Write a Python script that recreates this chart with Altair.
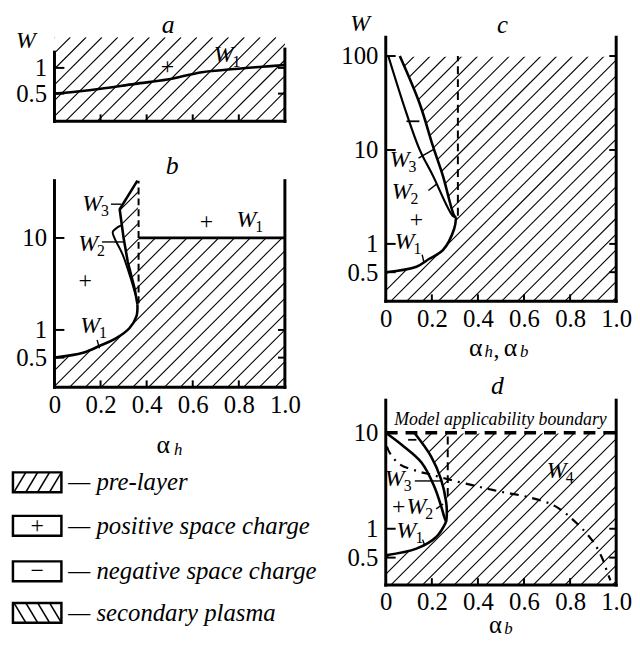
import altair as alt
import numpy as np
import pandas as pd

FONT = "Liberation Serif"
PW = 233  # plot width of every panel

# ---------------- values ----------------
x_ticks = [0, 0.2, 0.4, 0.6, 0.8, 1.0]
inner_x_ticks = [0.2, 0.4, 0.6, 0.8]

# panel a
a_y_ticks = [0.5, 1]
a_w1_x = [0, 0.1, 0.2, 0.35, 0.49, 0.64, 0.78, 0.9, 1.0]
a_w1_w = [0.5, 0.53, 0.57, 0.65, 0.73, 0.89, 0.97, 1.03, 1.08]

# panel b
b_y_ticks = [0.5, 1, 10]
b_w1_x = [0, 0.124, 0.197, 0.27, 0.326, 0.356, 0.36]
b_w1_w = [0.5, 0.565, 0.673, 0.82, 1.05, 1.41, 1.9]
b_w3_x = [0.36, 0.348, 0.318, 0.30, 0.283, 0.36]
b_w3_w = [1.9, 2.8, 5.5, 10, 20.5, 42]
b_w2_x = [0.352, 0.335, 0.296, 0.262, 0.253, 0.275, 0.293]
b_w2_w = [2.4, 3.36, 6.6, 9.8, 11.6, 13.1, 13.8]
b_dash_x = 0.365
b_w1_level = 10

# panel c
c_y_ticks = [0.5, 1, 10, 100]
c_w1_x = [0, 0.133, 0.189, 0.248, 0.297, 0.305]
c_w1_w = [0.5, 0.572, 0.695, 0.858, 1.45, 1.92]
c_w2_x = [0.011, 0.09, 0.147, 0.205, 0.29, 0.305]
c_w2_w = [100, 24.5, 10.1, 5.3, 2.0, 1.92]
c_w3_x = [0.061, 0.147, 0.205, 0.248, 0.297, 0.305]
c_w3_w = [100, 31.2, 10.9, 5.3, 2.0, 1.92]
c_dash_x = 0.313
c_top = 100

# panel d
d_y_ticks = [0.5, 1, 10]
d_w1_x = [0, 0.133, 0.219, 0.262]
d_w1_w = [0.53, 0.62, 0.82, 1.18]
d_w2_x = [0, 0.069, 0.155, 0.21, 0.24, 0.253, 0.262]
d_w2_w = [10, 7.5, 4.9, 2.78, 1.73, 1.35, 1.18]
d_w3_x = [0.124, 0.197, 0.24, 0.262, 0.265, 0.262]
d_w3_w = [10, 5.65, 3.27, 1.9, 1.4, 1.18]
d_w4_x = [0.005, 0.017, 0.06, 0.142, 0.2, 0.272, 0.375, 0.445, 0.504, 0.617, 0.733, 0.819, 0.897, 0.94, 0.96, 0.975]
d_w4_w = [7.2, 6.2, 4.7, 3.96, 3.65, 3.27, 2.85, 2.6, 2.42, 2.14, 1.73, 1.2, 0.75, 0.49, 0.36, 0.29]
d_dash_x = 0.269
d_limit = 10

legend_labels = ["— pre-layer", "— positive space charge", "— negative space charge", "— secondary plasma"]

NOVIEW = alt.ViewBackground(stroke="transparent", strokeWidth=0)

# ---------------- helpers ----------------
class Panel:
    def __init__(self, H, lo, hi, yvals, xlabels=True):
        self.H, self.lo, self.hi = H, lo, hi
        self.xs = alt.Scale(domain=[0, 1], nice=False, zero=False)
        self.ys = alt.Scale(type="log", domain=[lo, hi], nice=False)
        self.xa = alt.Axis(values=x_ticks, labelExpr="datum.value == 0 ? '0' : format(datum.value, '.1f')",
                           domain=False, ticks=False, grid=False, labels=xlabels, labelFont=FONT,
                           labelFontSize=25, labelColor="black", labelPadding=5, labelFlush=False, title="")
        self.ya = alt.Axis(values=yvals, format="~g", domain=False, ticks=False, grid=False,
                           labelFont=FONT, labelFontSize=25, labelColor="black", labelPadding=8, title="")
        self.yvals = yvals
        self.layers = []

    def X(self, f):
        return alt.X(f, type="quantitative", scale=self.xs, axis=self.xa)

    def Y(self, f):
        return alt.Y(f, type="quantitative", scale=self.ys, axis=self.ya)

    def hatch(self, step=16):
        offs = np.arange(-self.H, PW + step, step)
        df = pd.DataFrame({"x": offs / PW, "x2": (offs + self.H) / PW,
                           "w": self.lo, "w2": self.hi})
        self.layers.append(alt.Chart(df).mark_rule(clip=True, color="black", strokeWidth=1.1)
                           .encode(x=self.X("x"), x2="x2:Q", y=self.Y("w"), y2="w2:Q"))

    def hmask(self, xs_, ws_, interp="catmull-rom"):
        df = pd.DataFrame({"x": xs_, "w": ws_})
        self.layers.append(alt.Chart(df).mark_area(orient="horizontal", interpolate=interp,
                                                   fill="white", stroke="white", strokeWidth=1.5, opacity=1)
                           .encode(y=self.Y("w"), x=self.X("x"), x2=alt.value(-2)))

    def vmask(self, xs_, ws_, interp="catmull-rom"):
        df = pd.DataFrame({"x": xs_, "w": ws_})
        self.layers.append(alt.Chart(df).mark_area(orient="vertical", interpolate=interp,
                                                   fill="white", stroke="white", strokeWidth=1.5, opacity=1)
                           .encode(x=self.X("x"), y=self.Y("w"), y2=alt.value(-3)))

    def rmask(self, x1, x2, w):
        df = pd.DataFrame({"x": [x1], "x2": [x2], "w": [w]})
        self.layers.append(alt.Chart(df).mark_rect(fill="white", stroke="white", strokeWidth=1.5)
                           .encode(x=self.X("x"), x2="x2:Q", y=self.Y("w"), y2=alt.value(-3)))

    def curve(self, xs_, ws_, interp="catmull-rom", width=2.6, dash=None):
        df = pd.DataFrame({"x": xs_, "w": ws_, "i": range(len(xs_))})
        kw = dict(interpolate=interp, color="black", strokeWidth=width)
        if dash:
            kw["strokeDash"] = dash
        self.layers.append(alt.Chart(df).mark_line(**kw)
                           .encode(x=self.X("x"), y=self.Y("w"), order="i:Q"))

    def segs(self, rows, width=1.4, dash=None):
        df = pd.DataFrame(rows, columns=["x", "x2", "w", "w2"])
        kw = dict(color="black", strokeWidth=width)
        if dash:
            kw["strokeDash"] = dash
        self.layers.append(alt.Chart(df).mark_rule(**kw)
                           .encode(x=self.X("x"), x2="x2:Q", y=self.Y("w"), y2="w2:Q"))

    def frame(self, left_top, right_top):
        self.layers.append(alt.Chart(pd.DataFrame({"w": [left_top]}))
                           .mark_rule(color="black", strokeWidth=3, strokeCap="square")
                           .encode(x=alt.value(0), y=self.Y("w"), y2=alt.value(self.H)))
        self.layers.append(alt.Chart(pd.DataFrame({"w": [right_top]}))
                           .mark_rule(color="black", strokeWidth=3, strokeCap="square")
                           .encode(x=alt.value(PW), y=self.Y("w"), y2=alt.value(self.H)))
        self.layers.append(alt.Chart(pd.DataFrame({"k": [0]}))
                           .mark_rule(color="black", strokeWidth=3, strokeCap="square")
                           .encode(x=alt.value(0), x2=alt.value(PW), y=alt.value(self.H)))
        ty = pd.DataFrame({"w": self.yvals})
        self.layers.append(alt.Chart(ty).mark_rule(color="black", strokeWidth=2)
                           .encode(y=self.Y("w"), x=alt.value(0), x2=alt.value(10)))
        self.layers.append(alt.Chart(ty).mark_rule(color="black", strokeWidth=2)
                           .encode(y=self.Y("w"), x=alt.value(PW - 7), x2=alt.value(PW)))
        tx = pd.DataFrame({"x": inner_x_ticks})
        self.layers.append(alt.Chart(tx).mark_rule(color="black", strokeWidth=2)
                           .encode(x=self.X("x"), y=alt.value(self.H), y2=alt.value(self.H - 7)))

    def wlabels(self, rows):
        df = pd.DataFrame(rows, columns=["x", "w", "s"])
        self.layers.append(alt.Chart(df).mark_text(font=FONT, fontSize=24, fontStyle="italic",
                                                   align="center", baseline="middle", color="black")
                           .encode(x=self.X("x"), y=self.Y("w"), text=alt.value("W")))
        self.layers.append(alt.Chart(df).mark_text(font=FONT, fontSize=16, align="left",
                                                   baseline="middle", dx=9, dy=7, color="black")
                           .encode(x=self.X("x"), y=self.Y("w"), text="s:N"))

    def signs(self, rows, size=24):
        df = pd.DataFrame(rows, columns=["x", "w", "t"])
        self.layers.append(alt.Chart(df).mark_text(font=FONT, fontSize=size, align="center",
                                                   baseline="middle", color="black")
                           .encode(x=self.X("x"), y=self.Y("w"), text="t:N"))

    def ptext(self, t, px, py, size=26, italic=False, align="center"):
        kw = dict(font=FONT, fontSize=size, align=align, baseline="middle", color="black")
        if italic:
            kw["fontStyle"] = "italic"
        self.layers.append(alt.Chart(pd.DataFrame({"t": [t]})).mark_text(**kw)
                           .encode(x=alt.value(px), y=alt.value(py), text="t:N"))

    def chart(self):
        return alt.layer(*self.layers).properties(width=PW, height=self.H, view=NOVIEW)


# ---------------- panel a ----------------
pa = Panel(85, 0.237, 2.285, a_y_ticks, xlabels=False)
pa.layers.append(alt.Chart(pd.DataFrame({"k": [0]})).mark_rule(color="white", strokeWidth=1)
                 .encode(x=alt.value(-60), x2=alt.value(-59), y=alt.value(-40)))
pa.hatch()
pa.vmask(a_w1_x, a_w1_w)
pa.curve(a_w1_x, a_w1_w)
pa.frame(1.53, 1.66)
pa.signs([(0.49, 1.03, "+")])
pa.wlabels([(0.734, 1.41, "1")])
pa.ptext("W", -29, 4, size=24, italic=True)
pa.ptext("a", 115, -12, size=26, italic=True)

# ---------------- panel b ----------------
pb = Panel(209, 0.2378, 42.0, b_y_ticks)
pb.hatch()
pb.hmask(b_w1_x, b_w1_w)
pb.hmask(b_w3_x, b_w3_w, interp="linear")
pb.rmask(b_dash_x, 1, b_w1_level)
pb.segs([(b_dash_x, b_dash_x, 1.95, 42.0)], width=2, dash=[7, 4])
pb.segs([(b_dash_x, 1, b_w1_level, b_w1_level)], width=2.8)
pb.curve(b_w1_x, b_w1_w)
pb.curve(b_w3_x, b_w3_w, interp="linear")
pb.curve(b_w2_x, b_w2_w, width=2)
pb.frame(42.0, 42.0)
pb.segs([(0.245, 0.29, 23.3, 23.3), (0.206, 0.305, 9.05, 9.05), (0.185, 0.195, 0.78, 0.63)])
pb.wlabels([(0.163, 23.3, "3"), (0.146, 8.6, "2"), (0.155, 1.1, "1"), (0.833, 15.6, "1")])
pb.signs([(0.133, 3.36, "+"), (0.66, 14.9, "+")])
pb.ptext("b", 119, -15, size=26, italic=True)
pb.ptext("α", 110, 267, size=26)
pb.ptext("h", 125, 272, size=17, italic=True)

# ---------------- legend ----------------
rows_y = [36, 80, 126, 168]
lx = alt.Scale(domain=[0, PW], range=[0, PW])
ly = alt.Scale(domain=[0, 190], range=[0, 190])
box_df = pd.DataFrame({"x": -42, "x2": 7, "y": [r - 10 for r in rows_y], "y2": [r + 10 for r in rows_y]})
boxes = alt.Chart(box_df).mark_rect(fill="white", stroke="black", strokeWidth=2.5).encode(
    x=alt.X("x:Q", scale=lx, axis=None), x2="x2:Q",
    y=alt.Y("y:Q", scale=ly, axis=None), y2="y2:Q")
hl = []
for x0 in [-41, -29, -17, -5]:
    hl.append((x0, x0 + 12, rows_y[0] + 10, rows_y[0] - 10))
    hl.append((x0, x0 + 12, rows_y[3] - 10, rows_y[3] + 10))
hl_df = pd.DataFrame(hl, columns=["x", "x2", "y", "y2"])
hatch_leg = alt.Chart(hl_df).mark_rule(color="black", strokeWidth=1.6).encode(
    x=alt.X("x:Q", scale=lx, axis=None), x2="x2:Q",
    y=alt.Y("y:Q", scale=ly, axis=None), y2="y2:Q")
sign_df = pd.DataFrame({"x": [-17.5, -17.5], "y": [rows_y[1], rows_y[2]], "t": ["+", "−"]})
signs_leg = alt.Chart(sign_df).mark_text(font=FONT, fontSize=24, baseline="middle", color="black").encode(
    x=alt.X("x:Q", scale=lx, axis=None), y=alt.Y("y:Q", scale=ly, axis=None), text="t:N")
txt_df = pd.DataFrame({"x": 14, "y": rows_y, "t": legend_labels})
txt_leg = alt.Chart(txt_df).mark_text(font=FONT, fontSize=25, fontStyle="italic", align="left",
                                      baseline="middle", color="black").encode(
    x=alt.X("x:Q", scale=lx, axis=None), y=alt.Y("y:Q", scale=ly, axis=None), text="t:N")
legend = alt.layer(boxes, hatch_leg, signs_leg, txt_leg).properties(width=PW, height=190, view=NOVIEW)

# ---------------- panel c ----------------
pc = Panel(267, 0.245, 158.5, c_y_ticks)
pc.hatch()
pc.hmask(c_w1_x, c_w1_w)
pc.hmask(c_w3_x[::-1], c_w3_w[::-1])
pc.rmask(0, 1, c_top)
pc.segs([(c_dash_x, c_dash_x, 2.0, c_top)], width=2, dash=[8, 5])
pc.curve(c_w1_x, c_w1_w)
pc.curve(c_w2_x, c_w2_w, width=2.2)
pc.curve(c_w3_x, c_w3_w)
pc.frame(158.5, 158.5)
pc.segs([(0.142, 0.206, 8.2, 10.1), (0.185, 0.219, 3.7, 4.3), (0.158, 0.166, 0.77, 0.63)])
pc.segs([(0.09, 0.146, 20.2, 20.2)], width=1.8)
pc.wlabels([(0.06, 7.85, "3"), (0.069, 3.53, "2"), (0.082, 1.05, "1")])
pc.signs([(0.133, 1.79, "+")])
pc.ptext("W", -26, -13, size=24, italic=True)
pc.ptext("c", 118, -12, size=25, italic=True)
pc.ptext("α", 91, 314, size=26)
pc.ptext("h", 104, 318, size=17, italic=True)
pc.ptext(",", 112, 316, size=24)
pc.ptext("α", 126, 314, size=26)
pc.ptext("b", 140, 318, size=17, italic=True)

# ---------------- panel d ----------------
pd_ = Panel(187, 0.2585, 21.9, d_y_ticks)
pd_.hatch()
pd_.hmask(d_w1_x, d_w1_w)
pd_.hmask(d_w3_x[::-1], d_w3_w[::-1])
pd_.rmask(0, 1, d_limit)
pd_.segs([(d_dash_x, d_dash_x, 2.2, d_limit)], width=2, dash=[8, 5])
pd_.segs([(0, 1, d_limit, d_limit)], width=3.5, dash=[12, 8])
pd_.curve(d_w4_x, d_w4_w, width=2.2, dash=[9, 6, 2, 6])
pd_.curve(d_w1_x, d_w1_w)
pd_.curve(d_w2_x, d_w2_w)
pd_.curve(d_w3_x, d_w3_w)
pd_.frame(21.9, 21.9)
pd_.segs([(0.126, 0.24, 3.15, 3.15), (0.219, 0.249, 1.61, 1.81), (0.16, 0.17, 0.77, 0.66)])
pd_.segs([(0.097, 0.133, 8.46, 8.46)], width=1.8)
pd_.wlabels([(0.039, 3.27, "3"), (0.133, 1.69, "2"), (0.09, 0.953, "1"), (0.742, 3.96, "4")])
pd_.signs([(0.056, 1.69, "+")])
pd_.ptext("Model applicability boundary", 116, 20, size=18, italic=True)
pd_.ptext("d", 113, -14, size=26, italic=True)
pd_.ptext("α", 111, 227, size=25)
pd_.ptext("b", 124, 231, size=17, italic=True)

# ---------------- layout ----------------
left = alt.vconcat(pa.chart(), pb.chart(), legend, spacing=60, bounds="flush")
right = alt.vconcat(pc.chart(), pd_.chart(), spacing=100, bounds="flush")
chart = (alt.hconcat(left, right, spacing=PW + 102, bounds="flush")
         .properties(padding={"left": -14, "top": -15, "right": 0, "bottom": 4})
         .configure_view(strokeWidth=0, stroke="transparent")
         .configure(background="white"))

chart.save("out.html", embed_options={"renderer": "svg", "actions": False})
